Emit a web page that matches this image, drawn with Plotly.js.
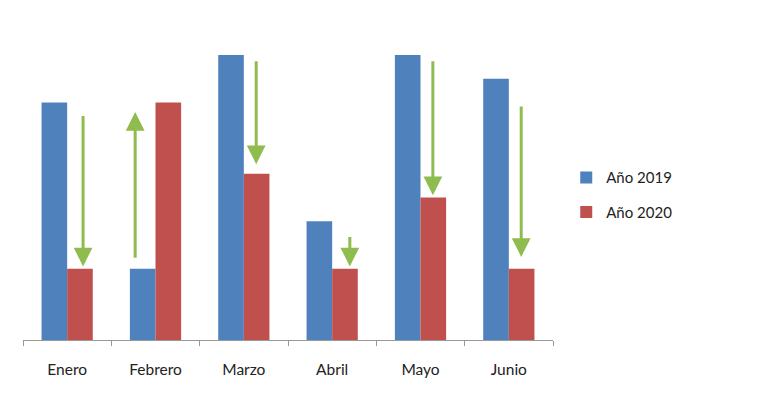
<!DOCTYPE html>
<html>
<head>
<meta charset="utf-8">
<script src="https://cdn.plot.ly/plotly-3.0.1.min.js"></script>
<style>html,body{margin:0;padding:0;background:#fff;}#chart{width:768px;height:400px;}</style>
</head>
<body>
<div id="chart"></div>
<script>
var months = ["Enero", "Febrero", "Marzo", "Abril", "Mayo", "Junio"];
var year2019 = [10, 3, 12, 5, 12, 11];
var year2020 = [3, 10, 7, 3, 6, 3];
var seriesNames = ["Año 2019", "Año 2020"];
// arrows: start and end values
var arrowFrom = [9.5, 3.4, 11.8, 4.4, 11.8, 9.9];
var arrowTo = [3.1, 9.6, 7.4, 3.1, 6.1, 3.5];
var arrowOffset = [0.18, -0.23, 0.14, 0.2, 0.14, 0.14];

var traces = [
  {type: "bar", name: seriesNames[0], legendgroup: "a", x: months, y: year2019, marker: {color: "#4F81BD"}},
  {type: "bar", name: seriesNames[1], legendgroup: "b", x: months, y: year2020, marker: {color: "#C0504D"}}
];

var annotations = months.map(function (m, i) {
  return {
    xref: "x", yref: "y", axref: "x", ayref: "y",
    x: i + arrowOffset[i], y: arrowTo[i],
    ax: i + arrowOffset[i], ay: arrowFrom[i],
    showarrow: true, arrowhead: 2, arrowsize: 1.25, arrowwidth: 3,
    arrowcolor: "#8FBC4F", text: ""
  };
});

var layout = {
  width: 768, height: 400,
  margin: {l: 23, r: 215, t: 55, b: 60},
  paper_bgcolor: "#fff", plot_bgcolor: "#fff",
  barmode: "group", bargap: 0.42, bargroupgap: 0,
  font: {family: "Lato, 'Open Sans', sans-serif", size: 14, color: "#222"},
  xaxis: {
    showline: true, linecolor: "#999", linewidth: 1,
    ticks: "outside", tickson: "boundaries", ticklen: 5, tickcolor: "#999",
    ticklabelstandoff: 15,
    tickfont: {size: 15.5, color: "#222"}, showgrid: false, zeroline: false,
    fixedrange: true
  },
  yaxis: {visible: false, range: [0, 12], fixedrange: true},
  legend: {
    x: 1.025, y: 0.51, xanchor: "left", yanchor: "middle",
    font: {size: 15, color: "#222"}, tracegroupgap: 12,
    itemwidth: 30
  },
  annotations: annotations,
  showlegend: true
};

Plotly.newPlot("chart", traces, layout, {displayModeBar: false, staticPlot: true});
</script>
</body>
</html>
